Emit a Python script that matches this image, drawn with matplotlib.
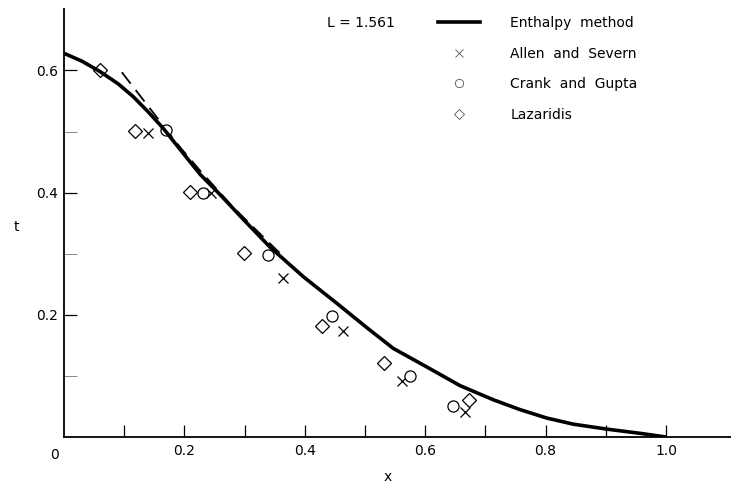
import numpy as np
import matplotlib
matplotlib.use("Agg")
import matplotlib.pyplot as plt
from matplotlib.lines import Line2D

# enthalpy method curve
curve_x = [0.0, 0.03, 0.06, 0.09, 0.115, 0.14, 0.165, 0.195, 0.226, 0.259, 0.3,
           0.342, 0.398, 0.453, 0.503, 0.547, 0.602, 0.658, 0.713, 0.757, 0.802,
           0.846, 0.901, 0.957, 1.0]
curve_t = [0.628, 0.615, 0.598, 0.578, 0.557, 0.532, 0.505, 0.468, 0.430, 0.397, 0.354,
           0.311, 0.262, 0.219, 0.179, 0.145, 0.115, 0.084, 0.061, 0.045, 0.031,
           0.021, 0.013, 0.006, 0.0]

# dashed curve near the top
dash_x = [0.096, 0.137, 0.193, 0.226, 0.281, 0.348, 0.365]
dash_t = [0.597, 0.545, 0.474, 0.436, 0.376, 0.311, 0.295]

# Allen and Severn
allen_x = [0.140, 0.245, 0.364, 0.464, 0.561, 0.666]
allen_t = [0.498, 0.400, 0.260, 0.173, 0.091, 0.041]

# Crank and Gupta
crank_x = [0.169, 0.231, 0.339, 0.446, 0.575, 0.647]
crank_t = [0.502, 0.400, 0.298, 0.198, 0.100, 0.050]

# Lazaridis
laz_x = [0.060, 0.118, 0.209, 0.299, 0.428, 0.532, 0.672]
laz_t = [0.600, 0.501, 0.401, 0.301, 0.182, 0.121, 0.061]

plt.rcParams['font.family'] = ['DejaVu Sans']

fig = plt.figure(figsize=(7.31, 4.87), dpi=100)
ax = fig.add_axes([64 / 731, 50 / 487, 667 / 731, 427.7 / 487])

ax.plot(curve_x, curve_t, color='black', lw=2.6, solid_capstyle='butt',
        solid_joinstyle='round', zorder=3)
ax.plot(dash_x, dash_t, color='black', lw=1.3, dashes=(8, 4.5), zorder=2)
ax.plot(allen_x, allen_t, ls='none', marker='x', ms=7, mew=0.9, color='black')
ax.plot(crank_x, crank_t, ls='none', marker='o', ms=8, mew=0.9, mfc='white', mec='black')
ax.plot(laz_x, laz_t, ls='none', marker='D', ms=7.5, mew=0.9, mfc='white', mec='black')

ax.set_xlim(0, 1.108)
ax.set_ylim(0, 0.7)
for s in ['top', 'right']:
    ax.spines[s].set_visible(False)
ax.spines['left'].set_linewidth(1.3)
ax.spines['bottom'].set_linewidth(1.3)

ax.set_xticks([0.2, 0.4, 0.6, 0.8, 1.0])
ax.set_xticklabels(['0.2', '0.4', '0.6', '0.8', '1.0'])
ax.set_xticks([0.1, 0.3, 0.5, 0.7, 0.9], minor=True)
ax.set_yticks([0.2, 0.4, 0.6])
ax.set_yticklabels(['0.2', '0.4', '0.6'])
ax.set_yticks([0.1, 0.3, 0.5], minor=True)
ax.tick_params(axis='both', which='major', direction='in', length=9, width=0.9,
               labelsize=10, colors='black')
ax.tick_params(axis='x', which='major', pad=5)
ax.tick_params(axis='y', which='major', pad=4)
ax.tick_params(axis='x', which='minor', direction='in', length=9, width=0.9)
ax.tick_params(axis='y', which='minor', direction='in', length=9, width=0.7,
               color='#888888')
ax.text(-0.015, -0.018, '0', ha='center', va='top', fontsize=10)

ax.set_xlabel('x', fontsize=10)
ax.xaxis.set_label_coords(0.485, -0.078)
ax.set_ylabel('t', fontsize=10, rotation=0)
ax.yaxis.set_label_coords(-0.072, 0.475)

fig.text(327 / 731, 1 - 23 / 487, 'L = 1.561', fontsize=10, va='center')
handles = [
    Line2D([], [], color='black', lw=2.6),
    Line2D([], [], ls='none', marker='x', ms=6, mew=0.6, color='#555555'),
    Line2D([], [], ls='none', marker='o', ms=6, mew=0.6, mfc='white', mec='#555555'),
    Line2D([], [], ls='none', marker='D', ms=5.5, mew=0.6, mfc='white', mec='#555555'),
]
labels = ['Enthalpy  method', 'Allen  and  Severn', 'Crank  and  Gupta', 'Lazaridis']
fig.legend(handles, labels, loc='upper left', bbox_to_anchor=(438 / 731, 1 - 16 / 487),
           frameon=False, fontsize=10, handlelength=3.0, handletextpad=2.2,
           labelspacing=1.2, borderaxespad=0, borderpad=0)

fig.savefig('out.png', dpi=100)
